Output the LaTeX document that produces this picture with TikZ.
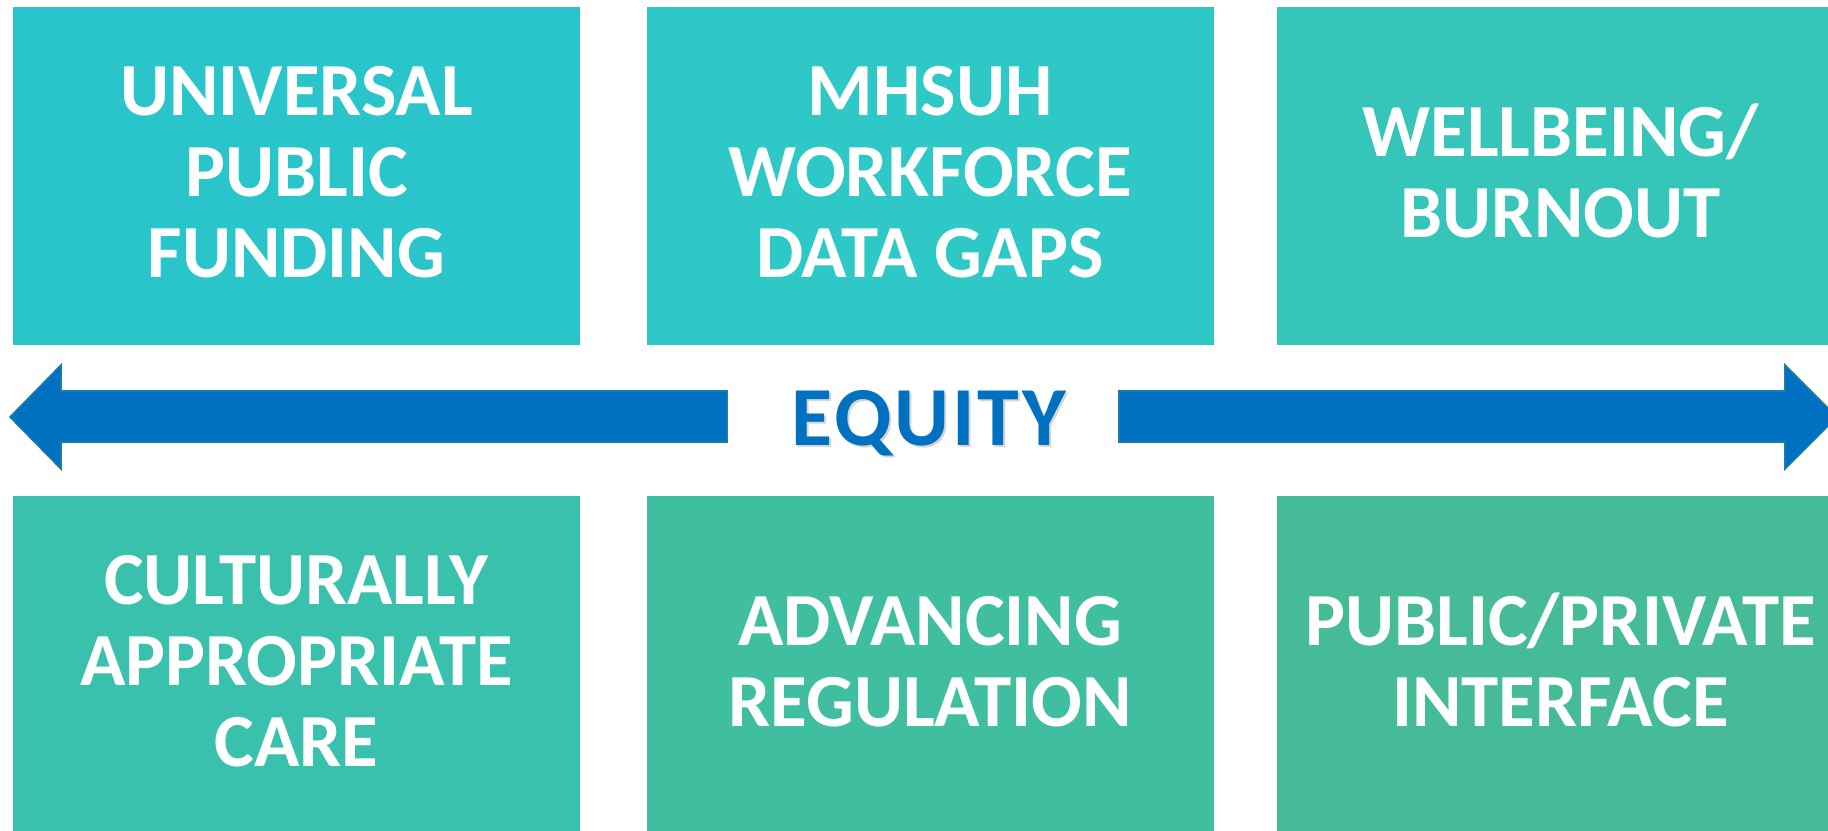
\documentclass[tikz,border=0pt]{standalone}
\usepackage{fontspec}
\setmainfont{Carlito}
\usetikzlibrary{calc}

% tile fills, running from cyan (top left) to green (bottom right)
\definecolor{tileA}{RGB}{42,196,203}
\definecolor{tileB}{RGB}{46,200,198}
\definecolor{tileC}{RGB}{53,197,185}
\definecolor{tileD}{RGB}{58,193,174}
\definecolor{tileE}{RGB}{63,191,160}
\definecolor{tileF}{RGB}{69,187,152}
\definecolor{arrowblue}{RGB}{0,112,192}
\definecolor{arrowedge}{RGB}{27,124,168}

\tikzset{
  tile/.style={rectangle, draw=none, minimum width=567pt, minimum height=338pt, inner sep=0pt},
  % anchor=base sits on the baseline of the last line
  tilelabel/.style={anchor=base, align=center, text=white, inner sep=0pt,
    font=\fontsize{75}{80.6}\selectfont\bfseries},
  bigarrow/.style={fill=arrowblue, draw=arrowedge, line width=1.6pt, line join=miter},
  equitytext/.style={anchor=base, inner sep=0pt,
    font=\fontsize{84}{90}\selectfont\bfseries\addfontfeature{LetterSpace=3.5}}
}

\begin{document}
\begin{tikzpicture}[x=1pt, y=-1pt]
  \useasboundingbox (0,0) rectangle (1828,830);
  \clip (0,0) rectangle (1828,830);
  \fill[white] (0,0) rectangle (1828,830);

  % six topic tiles
  \node[tile, fill=tileA] (b1) at (296.5,176) {};
  \node[tile, fill=tileB] (b2) at (930,176) {};
  \node[tile, fill=tileC] (b3) at (1560.5,176) {};
  \node[tile, fill=tileD] (b4) at (296.5,665) {};
  \node[tile, fill=tileE] (b5) at (930,665) {};
  \node[tile, fill=tileF] (b6) at (1560.5,665) {};

  \node[tilelabel] (t1) at ($(b1.center)+(0,101)$) {UNIVERSAL\\PUBLIC\\FUNDING};
  \node[tilelabel] (t2) at ($(b2.center)+(0,101)$) {MHSUH\\WORKFORCE\\DATA GAPS};
  \node[tilelabel] (t3) at ($(b3.center)+(0,61)$) {WELLBEING/\\BURNOUT};
  \node[tilelabel] (t4) at ($(b4.center)+(0,101)$) {CULTURALLY\\APPROPRIATE\\CARE};
  \node[tilelabel] (t5) at ($(b5.center)+(0,61)$) {ADVANCING\\REGULATION};
  \node[tilelabel] (t6) at ($(b6.center)+(0,61)$) {PUBLIC/PRIVATE\\INTERFACE};

  % central label with a soft drop shadow
  \node[equitytext, text=black, opacity=0.16] (eqshadow) at (931,447) {EQUITY};
  \node[equitytext, text=arrowblue] (equity) at (929,445) {EQUITY};

  % block arrows pointing outward from the label
  \draw[bigarrow] (727,391) -- (61,391) -- (61,365) -- (10,417) -- (61,469)
                  -- (61,442) -- (727,442) -- cycle;
  \draw[bigarrow] (1119,391) -- (1785,391) -- (1785,365) -- (1837,417) -- (1785,469)
                  -- (1785,442) -- (1119,442) -- cycle;
\end{tikzpicture}
\end{document}
